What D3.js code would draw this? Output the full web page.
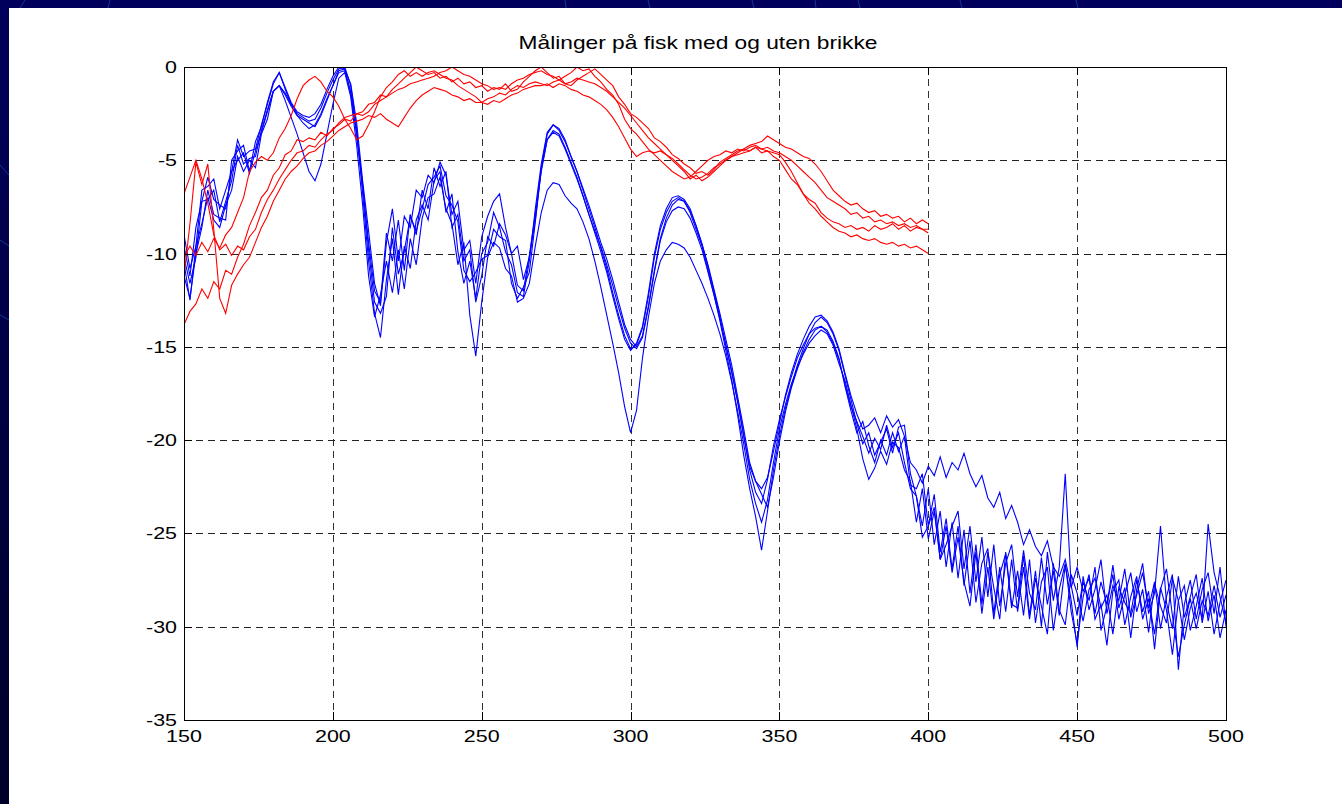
<!DOCTYPE html>
<html>
<head>
<meta charset="utf-8">
<script src="https://cdn.jsdelivr.net/npm/d3@7"></script>
<style>
  body { margin: 0; background: #000050; overflow: hidden; }
  svg { display: block; }
</style>
</head>
<body>
<svg id="chart"></svg>
<script>
const title = "Målinger på fisk med og uten brikke";
const xTicks = [150, 200, 250, 300, 350, 400, 450, 500];
const yTicks = [0, -5, -10, -15, -20, -25, -30, -35];

// samples every 2 units, blue from 150 to 500, red from 150 to 400
const xStart = 150, xStep = 2;

const blue1 = [
  -9.0, -10.8, -9.6, -8.4, -7.0, -8.2, -8.6, -7.4, -6.6, -4.8,
  -5.6, -5.0, -5.4, -3.6, -2.8, -1.3, -1.0, -1.8, -2.7, -3.6,
  -4.6, -5.6, -6.1, -5.2, -3.6, -2.0, -0.6, -0.3, -1.6, -4.2,
  -7.4, -11.2, -13.4, -12.2, -10.4, -12.1, -9.8, -11.9, -9.2, -10.6,
  -8.1, -7.0, -6.8, -5.9, -7.6, -8.4, -10.6, -9.4, -13.3, -15.5,
  -12.6, -10.2, -9.4, -9.7, -10.8, -11.2, -12.6, -12.4, -11.6, -9.6,
  -7.8, -6.6, -6.2, -6.3, -6.9, -7.3, -7.6, -8.3, -9.2, -10.4,
  -11.8, -13.3, -14.8, -16.4, -18.2, -19.6, -18.4, -15.6, -13.4, -11.6,
  -10.4, -9.8, -9.4, -9.5, -9.7, -10.2, -10.9, -11.6, -12.4, -13.3,
  -14.3, -15.5, -16.9, -18.5, -20.2, -22.1, -23.4, -24.4, -23.2, -21.2,
  -19.4, -18.1, -17.0, -16.1, -15.4, -14.8, -14.4, -14.1, -14.3, -14.9,
  -15.9, -16.8, -18.1, -19.4, -21.0, -22.1, -21.5, -20.6, -21.3, -20.1,
  -20.4, -21.6, -22.2, -24.4, -22.6, -25.3, -23.8, -26.4, -24.6, -27.1,
  -25.2, -27.6, -28.9, -26.0, -29.3, -26.8, -29.6, -27.2, -26.1, -29.0,
  -27.0, -29.4, -26.4, -29.8, -27.6, -26.8, -30.2, -28.0, -26.6, -29.2,
  -30.9, -28.4, -27.2, -29.6, -28.8, -31.0, -28.1, -27.5, -29.9, -28.4,
  -27.3, -29.6, -28.5, -30.4, -27.9, -29.1, -31.5, -28.6, -27.8, -30.2,
  -28.9, -27.4, -29.7, -28.3, -30.6, -29.1
];

const blue2 = [
  -11.2, -12.4, -10.0, -8.6, -6.6, -7.9, -8.1, -8.2, -5.0, -4.5,
  -4.2, -5.6, -4.0, -3.2, -1.9, -0.8, -0.3, -1.2, -2.0, -2.5,
  -2.7, -2.9, -2.8, -2.2, -1.4, -0.7, -0.1, 0.0, -1.0, -3.3,
  -6.8, -10.4, -13.2, -14.5, -11.4, -9.2, -12.2, -9.6, -10.8, -8.2,
  -7.4, -8.2, -6.1, -5.6, -7.8, -6.8, -9.9, -11.6, -10.4, -12.4,
  -10.0, -9.4, -7.8, -8.6, -9.9, -10.6, -12.1, -12.3, -10.4, -7.6,
  -5.2, -3.5, -3.1, -3.3, -3.9, -4.8, -5.6, -6.6, -7.6, -8.6,
  -9.7, -10.8, -12.1, -13.3, -14.4, -15.1, -14.9, -14.0, -12.3, -10.2,
  -8.7, -7.8, -7.2, -7.0, -7.2, -7.8, -8.7, -9.6, -10.9, -12.2,
  -13.6, -15.2, -16.8, -18.7, -20.8, -22.6, -24.1, -25.9, -23.8, -21.6,
  -19.8, -18.3, -17.1, -16.0, -15.1, -14.3, -13.7, -13.4, -13.7, -14.3,
  -15.2, -16.5, -17.8, -19.1, -20.2, -19.6, -20.8, -20.1, -19.4, -20.7,
  -19.3, -19.2, -21.8, -23.0, -24.6, -22.6, -25.6, -23.8, -26.8, -24.4,
  -27.4, -24.8, -28.2, -25.6, -28.8, -26.0, -27.9, -29.6, -26.0, -28.8,
  -29.0, -26.2, -29.4, -27.0, -30.0, -26.0, -28.6, -26.8, -21.8, -27.8,
  -29.4, -27.6, -28.6, -26.8, -30.2, -28.9, -26.7, -29.0, -27.9, -30.6,
  -28.0, -26.6, -29.3, -28.2, -24.6, -28.7, -30.1, -27.3, -29.5, -28.4,
  -27.2, -29.8, -28.1, -30.4, -28.7, -27.5
];

const blue3 = [
  -10.5, -12.5, -9.6, -6.6, -6.4, -6.0, -7.6, -6.6, -5.6, -3.9,
  -4.8, -4.5, -4.4, -3.1, -2.0, -0.9, -0.3, -1.1, -1.9, -2.4,
  -2.6, -2.7, -2.5, -2.0, -1.2, -0.5, 0.0, -0.1, -0.9, -3.0,
  -6.1, -8.8, -11.6, -12.8, -9.4, -7.6, -10.4, -8.0, -8.6, -6.6,
  -7.0, -5.8, -6.2, -5.1, -5.8, -7.9, -7.2, -9.8, -9.3, -11.6,
  -9.1, -8.0, -7.2, -6.8, -8.6, -10.0, -9.6, -11.4, -10.2, -8.2,
  -5.4, -3.6, -3.1, -3.4, -4.0, -4.8, -5.6, -6.5, -7.4, -8.4,
  -9.4, -10.3, -11.4, -12.6, -13.8, -14.6, -15.0, -14.4, -12.8, -10.9,
  -9.2, -8.1, -7.4, -7.1, -7.2, -7.7, -8.5, -9.5, -10.6, -11.9,
  -13.2, -14.6, -16.0, -17.7, -19.4, -21.2, -22.2, -22.6, -22.0, -20.6,
  -19.1, -17.6, -16.4, -15.4, -14.6, -13.9, -13.4, -13.3, -13.6, -14.2,
  -15.1, -16.4, -17.6, -18.6, -19.4, -19.2, -18.8, -19.6, -18.7, -19.3,
  -18.9, -19.8, -21.2, -21.6, -22.3, -21.4, -21.9, -20.9, -22.0, -21.2,
  -21.6, -20.7, -21.8, -22.5, -21.9, -23.1, -23.6, -22.8, -24.2, -23.5,
  -24.4, -25.6, -24.8, -25.7, -26.2, -25.4, -26.8, -27.3, -26.4, -27.9,
  -26.8, -28.1, -27.4, -29.3, -27.6, -28.8, -27.2, -29.6, -28.3, -27.1,
  -29.2, -28.0, -30.3, -27.7, -28.9, -29.8, -27.4, -28.6, -30.7, -29.0,
  -28.2, -29.6, -24.5, -27.1, -28.4, -29.8
];

const blue4 = [
  -9.6, -11.2, -8.6, -7.2, -5.9, -7.1, -7.4, -7.6, -5.6, -5.0,
  -4.6, -5.7, -4.5, -3.5, -2.4, -1.3, -1.0, -1.5, -2.1, -2.6,
  -2.8, -3.0, -3.2, -2.6, -1.8, -1.0, -0.3, -0.2, -1.3, -3.6,
  -6.4, -9.4, -12.0, -12.6, -8.9, -10.4, -8.2, -10.9, -7.9, -9.0,
  -6.6, -7.6, -5.4, -6.4, -5.6, -8.6, -7.9, -10.4, -9.8, -12.6,
  -11.2, -9.1, -9.6, -8.4, -9.0, -10.0, -11.7, -12.0, -10.1, -7.9,
  -5.6, -3.9, -3.4, -3.6, -4.3, -5.1, -5.9, -6.9, -7.9, -8.9,
  -9.9, -11.0, -12.3, -13.5, -14.6, -15.2, -14.8, -13.9, -12.1, -10.0,
  -8.5, -7.6, -7.0, -6.9, -7.1, -7.6, -8.5, -9.5, -10.7, -12.0,
  -13.4, -14.9, -16.4, -18.0, -19.8, -21.4, -22.2, -22.9, -23.6, -22.0,
  -20.1, -18.5, -17.2, -16.2, -15.3, -14.6, -14.1, -13.9, -14.2, -14.8,
  -15.7, -17.0, -18.2, -19.0, -19.8, -20.7, -19.9, -20.5, -19.2, -20.4,
  -19.6, -21.2, -22.6, -23.0, -25.2, -24.6, -23.6, -26.4, -25.6, -24.6,
  -23.8, -26.9, -24.6, -27.6, -25.2, -28.4, -25.6, -28.9, -26.6, -25.6,
  -28.4, -25.9, -28.2, -29.1, -26.3, -28.8, -27.0, -29.4, -26.7, -28.6,
  -31.1, -27.3, -29.1, -28.0, -26.4, -29.3, -27.8, -28.6, -26.9, -29.5,
  -28.3, -27.1, -29.0, -27.6, -30.1, -28.4, -27.2, -32.3, -28.8, -27.5,
  -29.6, -28.0, -27.1, -29.3, -26.8, -30.0
];

const blue5 = [
  -10.2, -11.6, -10.2, -7.2, -7.1, -6.6, -8.3, -7.2, -6.1, -4.2,
  -5.2, -4.9, -4.8, -3.4, -2.3, -1.3, -1.0, -1.4, -2.0, -2.6,
  -3.0, -3.3, -3.1, -2.5, -1.7, -1.0, -0.2, -0.1, -1.4, -3.6,
  -6.3, -9.8, -12.6, -13.2, -12.3, -8.6, -11.1, -9.9, -8.0, -8.8,
  -7.6, -6.3, -5.9, -5.3, -6.9, -7.4, -8.3, -10.9, -11.5, -11.0,
  -10.3, -10.1, -8.7, -9.1, -9.3, -11.6, -12.4, -11.8, -11.0, -8.3,
  -5.5, -3.9, -3.5, -3.7, -4.4, -5.2, -6.0, -6.9, -7.9, -8.8,
  -9.6, -10.6, -11.7, -12.9, -14.0, -14.8, -15.1, -14.5, -12.9, -11.0,
  -9.3, -8.3, -7.7, -7.5, -7.6, -8.1, -8.9, -9.8, -11.0, -12.2,
  -13.5, -14.9, -16.3, -17.9, -19.7, -21.6, -22.8, -23.4, -22.1, -20.3,
  -18.9, -17.7, -16.6, -15.6, -14.9, -14.3, -14.0, -13.9, -14.1, -14.7,
  -15.6, -17.1, -18.4, -19.6, -19.0, -20.3, -21.2, -20.0, -20.8, -19.6,
  -20.6, -19.8, -22.4, -22.6, -21.8, -24.6, -22.9, -26.0, -24.2, -26.9,
  -24.6, -27.8, -25.4, -28.7, -26.6, -25.8, -29.3, -26.8, -29.2, -26.4,
  -29.2, -26.8, -29.6, -27.4, -28.9, -30.4, -26.6, -29.1, -29.9, -27.2,
  -28.2, -29.7, -28.0, -27.4, -29.0, -28.3, -30.4, -27.9, -28.7, -29.3,
  -27.5, -29.2, -28.1, -31.2, -28.0, -26.9, -29.4, -31.6, -29.9, -28.5,
  -30.1, -28.6, -29.4, -27.8, -29.5, -28.3
];

const red1 = [
  -13.8, -13.1, -12.7, -11.9, -12.4, -11.5, -11.9, -10.9, -11.1, -10.2,
  -9.5, -8.5, -7.8, -7.0, -6.6, -5.8, -5.4, -4.7, -4.5, -3.9,
  -4.0, -3.8, -3.9, -3.5, -3.7, -3.3, -3.1, -2.8, -2.9, -2.5,
  -2.4, -2.0, -1.9, -1.5, -1.6, -1.2, -0.9, -0.6, -0.3, 0.0,
  -0.2, -0.4, -0.3, -0.6, -0.5, -0.8, -0.6, -0.9, -0.8, -1.1,
  -1.0, -1.3, -1.1, -1.2, -0.9, -1.3, -1.2, -0.8, -0.5, -0.2,
  0.0, -0.3, -0.6, -0.5, -0.9, -1.0, -0.7, -0.5, -0.3, -0.1,
  -0.4, -0.7, -1.0, -1.6, -2.0, -2.5, -2.7, -3.0, -3.3, -3.8,
  -4.0, -4.3, -4.7, -4.9, -5.2, -5.4, -5.7, -5.6, -5.8, -5.5,
  -5.1, -4.9, -4.7, -4.5, -4.4, -4.2, -4.1, -4.0, -3.7, -3.9,
  -4.1, -4.3, -4.4, -4.6, -4.8, -4.9, -5.2, -5.6, -6.1, -6.6,
  -6.9, -7.2, -7.4, -7.3, -7.6, -7.8, -7.7, -8.0, -7.9, -8.1,
  -8.0, -8.3, -8.1, -8.4, -8.2, -8.4
];

const red2 = [
  -10.2, -9.6, -10.1, -9.4, -9.9, -9.2, -9.7, -9.0, -8.6, -7.8,
  -7.0, -5.6, -5.1, -4.8, -5.0, -4.6, -3.8, -3.3, -2.6, -1.7,
  -1.0, -0.7, -0.5, -0.8, -1.3, -1.6, -2.1, -2.8, -3.3, -3.9,
  -3.7, -3.1, -2.4, -1.6, -1.1, -0.8, -0.4, -0.2, -0.5, -0.3,
  -0.5, -0.3, -0.2, -0.4, -0.6, -0.7, -1.0, -1.2, -1.4, -1.6,
  -1.9, -1.7, -1.6, -1.4, -1.5, -1.2, -1.0, -1.1, -0.9, -0.8,
  -0.9, -1.0, -0.8, -0.7, -0.5, -0.3, 0.0, -0.2, -0.1, -0.5,
  -0.8, -1.2, -1.5, -2.0, -2.8, -3.3, -3.6, -4.0, -4.4, -4.7,
  -5.0, -5.3, -5.6, -5.8, -6.0, -5.9, -5.6, -5.3, -5.0, -4.8,
  -4.7, -4.5, -4.6, -4.4, -4.5, -4.3, -4.2, -4.4, -4.3, -4.5,
  -4.6, -4.8, -5.0, -5.3, -5.6, -5.9, -6.2, -6.6, -7.0, -7.2,
  -7.4, -7.6, -7.9, -7.8, -8.1, -8.0, -8.3, -8.2, -8.4, -8.3,
  -8.5, -8.4, -8.6, -8.5, -8.7, -8.7
];

const red3 = [
  -11.2, -8.4, -5.1, -6.3, -5.2, -8.7, -12.4, -13.2, -11.7, -11.1,
  -10.6, -10.2, -9.4, -8.6, -8.0, -7.2, -6.6, -6.0, -5.6, -5.3,
  -4.9, -4.6, -4.5, -4.2, -4.0, -3.7, -3.4, -3.2, -3.0, -2.9,
  -2.8, -2.6, -2.7, -2.5, -2.8, -3.0, -3.2, -2.7, -2.2, -1.8,
  -1.5, -1.3, -1.1, -1.2, -1.3, -1.5, -1.6, -1.8, -1.7, -1.9,
  -1.9, -2.0, -1.8, -1.9, -1.7, -1.5, -1.4, -1.2, -1.1, -1.0,
  -1.0, -0.9, -1.1, -0.9, -1.0, -1.2, -1.3, -1.5, -1.6, -1.8,
  -2.0, -2.3, -2.7, -3.2, -3.8, -4.4, -4.8, -4.6, -4.5, -4.6,
  -4.5, -4.7, -4.9, -5.2, -5.5, -5.8, -6.0, -5.9, -5.7, -5.4,
  -5.2, -5.0, -4.8, -4.6, -4.4, -4.5, -4.3, -4.6, -4.5, -4.8,
  -5.0, -5.5, -6.0, -6.3, -6.8, -7.1, -7.3, -7.8, -8.1, -8.3,
  -8.4, -8.6, -8.5, -8.7, -8.6, -8.8, -8.5, -8.7, -8.6, -8.4,
  -8.7, -8.5, -8.8, -8.6, -8.7, -8.9
];

const red4 = [
  -6.8, -5.9, -5.0, -6.0, -7.3, -9.0, -9.8, -9.5, -10.1, -9.6,
  -9.8, -9.1, -8.7, -7.8, -7.1, -6.6, -6.0, -5.5, -5.0, -4.6,
  -4.5, -4.2, -4.3, -3.9, -3.6, -3.4, -3.0, -2.7, -2.6, -2.5,
  -2.6, -2.4, -2.0, -1.8, -1.6, -1.4, -1.2, -1.1, -0.9, -0.8,
  -0.7, -0.6, -0.5, -0.3, -0.2, 0.0, -0.2, -0.4, -0.5, -0.7,
  -0.9, -1.0, -1.2, -1.1, -1.2, -0.9, -0.7, -0.6, -0.4, -0.3,
  -0.2, -0.4, -0.5, -0.7, -0.9, -0.8, -0.6, -0.7, -0.8, -0.9,
  -1.1, -1.3, -1.6, -1.9, -2.2, -2.6, -3.0, -3.4, -3.8, -4.1,
  -4.4, -4.7, -5.0, -5.3, -5.6, -6.0, -5.8, -6.1, -5.9, -5.6,
  -5.3, -5.0, -4.8, -4.7, -4.6, -4.5, -4.3, -4.4, -4.5, -4.6,
  -4.7, -5.1, -5.6, -6.2, -6.8, -7.3, -7.6, -8.0, -8.3, -8.6,
  -8.8, -8.9, -9.1, -9.0, -9.2, -9.3, -9.2, -9.4, -9.5, -9.4,
  -9.6, -9.5, -9.7, -9.6, -9.8, -10.0
];

const blueSeries = [blue1, blue2, blue3, blue4, blue5];
const redSeries = [red1, red2, red3, red4];

function drawChart() {
    let W = 1342, H = 804;
    let margin = { top: 67, right: 116, bottom: 84, left: 184 },
        width = W - margin.left - margin.right,
        height = H - margin.top - margin.bottom;

    let root = d3.select('#chart').attr('width', W).attr('height', H);

    // slide background
    let defs = root.append('defs');
    let grad = defs.append('linearGradient').attr('id', 'bg')
        .attr('x1', 0).attr('y1', 0).attr('x2', 0).attr('y2', 1);
    grad.append('stop').attr('offset', '0%').attr('stop-color', '#00005c');
    grad.append('stop').attr('offset', '100%').attr('stop-color', '#00002a');
    root.append('rect').attr('width', W).attr('height', H).attr('fill', 'url(#bg)');

    let deco = [[25, 0, 20, 8], [110, 0, 108, 8], [565, 0, 566, 8], [648, 0, 650, 8],
                [752, 0, 754, 8], [815, 0, 816, 8], [858, 0, 860, 8], [960, 0, 962, 8],
                [1076, 0, 1078, 8], [0, 165, 9, 175], [0, 240, 9, 246], [0, 315, 9, 320]];
    root.selectAll('.deco').data(deco).enter().append('line')
        .attr('x1', d => d[0]).attr('y1', d => d[1]).attr('x2', d => d[2]).attr('y2', d => d[3])
        .attr('stroke', '#1c4fb0').attr('stroke-width', 1).attr('opacity', 0.7);

    root.append('rect').attr('x', 9).attr('y', 8).attr('width', W - 9).attr('height', H - 8)
        .attr('fill', '#ffffff');

    let svg = root.append('g').attr('transform', `translate(${margin.left}, ${margin.top})`);

    let x = d3.scaleLinear().domain([150, 500]).range([0, width]);
    let y = d3.scaleLinear().domain([-35, 0]).range([height, 0]);
    let px = v => Math.round(x(v)) + 0.5;
    let py = v => Math.round(y(v)) + 0.5;

    // dashed grid
    svg.selectAll('.vgrid').data(xTicks).enter().append('line')
        .attr('x1', d => px(d)).attr('x2', d => px(d))
        .attr('y1', 0).attr('y2', height)
        .attr('stroke', '#333').attr('stroke-dasharray', '7,5');
    svg.selectAll('.hgrid').data(yTicks).enter().append('line')
        .attr('x1', 0).attr('x2', width)
        .attr('y1', d => py(d)).attr('y2', d => py(d))
        .attr('stroke', '#222').attr('stroke-dasharray', '7,5');

    defs.append('clipPath').attr('id', 'plotclip').append('rect')
        .attr('x', 0).attr('y', 0).attr('width', width + 1).attr('height', height + 1);

    let line = d3.line()
        .x(d => x(d[0]))
        .y(d => y(d[1]));
    let toPoints = s => s.map((v, i) => [xStart + i * xStep, v]);

    let plot = svg.append('g').attr('clip-path', 'url(#plotclip)');
    plot.selectAll('.blue').data(blueSeries).enter().append('path')
        .attr('d', s => line(toPoints(s)))
        .attr('fill', 'none').attr('stroke', '#0000ff').attr('stroke-width', 1.1);
    plot.selectAll('.red').data(redSeries).enter().append('path')
        .attr('d', s => line(toPoints(s)))
        .attr('fill', 'none').attr('stroke', '#ff0000').attr('stroke-width', 1.1);

    // box and inward ticks
    svg.append('rect').attr('x', 0.5).attr('y', 0.5).attr('width', Math.round(width))
        .attr('height', Math.round(height)).attr('fill', 'none').attr('stroke', '#000');
    let tk = 8;
    svg.selectAll('.xt').data(xTicks).enter().append('path')
        .attr('d', d => `M${px(d)},${height}v${-tk}M${px(d)},0v${tk}`)
        .attr('stroke', '#000');
    svg.selectAll('.yt').data(yTicks).enter().append('path')
        .attr('d', d => `M0,${py(d)}h${tk}M${width},${py(d)}h${-tk}`)
        .attr('stroke', '#000');

    let font = "'Liberation Sans', Arial, Helvetica, sans-serif";
    let stretch = 1.3;

    svg.selectAll('.xl').data(xTicks).enter().append('text')
        .attr('transform', d => `translate(${x(d)}, ${height + 22}) scale(${stretch},1)`)
        .attr('text-anchor', 'middle')
        .style('font-family', font).style('font-size', '16.5px').style('fill', '#000')
        .text(d => d);

    svg.selectAll('.yl').data(yTicks).enter().append('text')
        .attr('transform', d => `translate(-7, ${y(d) + 6}) scale(${stretch},1)`)
        .attr('text-anchor', 'end')
        .style('font-family', font).style('font-size', '16.5px').style('fill', '#000')
        .text(d => d);

    root.append('text')
        .attr('transform', `translate(698, 49) scale(${stretch},1)`)
        .attr('text-anchor', 'middle')
        .style('font-family', font).style('font-size', '17.5px').style('fill', '#000')
        .text(title);
}

drawChart();
</script>
</body>
</html>
